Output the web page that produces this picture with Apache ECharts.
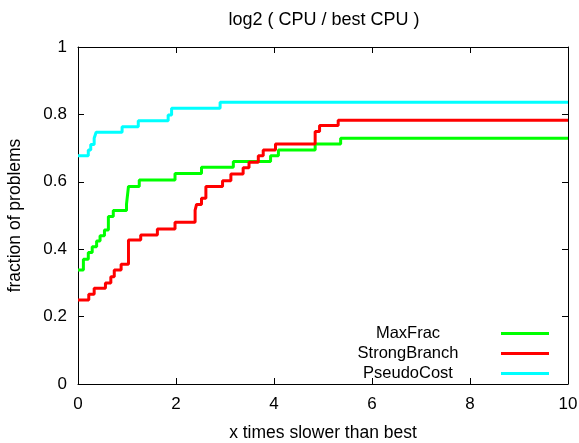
<!DOCTYPE html>
<html>
<head>
<meta charset="utf-8">
<script src="https://cdn.jsdelivr.net/npm/echarts@6/dist/echarts.min.js"></script>
<style>
  html, body { margin: 0; padding: 0; background: #fff; }
  #chart-container { width: 579px; height: 443px; }
</style>
</head>
<body>
<div id="chart-container"></div>
<script>
// step points: value holds from x until the next x
var maxFracX = [0, 0.11, 0.21, 0.29, 0.38, 0.45, 0.54, 0.62, 0.72, 0.99, 1.03, 1.25, 1.98, 2.52, 3.17, 3.93, 4.09, 4.84, 5.36, 10];
var maxFracY = [0.338, 0.37, 0.39, 0.407, 0.424, 0.44, 0.457, 0.497, 0.515, 0.534, 0.586, 0.605, 0.625, 0.643, 0.66, 0.677, 0.694, 0.712, 0.729, 0.729];

var strongX = [0, 0.22, 0.33, 0.56, 0.67, 0.74, 0.88, 1.03, 1.28, 1.62, 1.98, 2.39, 2.42, 2.52, 2.61, 2.95, 3.12, 3.37, 3.49, 3.68, 3.78, 4.03, 4.84, 4.93, 5.31, 10];
var strongY = [0.249, 0.266, 0.284, 0.30, 0.318, 0.338, 0.355, 0.427, 0.442, 0.46, 0.48, 0.516, 0.533, 0.551, 0.586, 0.603, 0.623, 0.642, 0.658, 0.677, 0.694, 0.712, 0.749, 0.767, 0.783, 0.783];

var pseudoX = [0, 0.21, 0.26, 0.33, 0.37, 0.90, 1.23, 1.84, 1.91, 2.90, 10];
var pseudoY = [0.677, 0.694, 0.711, 0.729, 0.747, 0.763, 0.781, 0.798, 0.818, 0.836, 0.836];

var seriesNames = ['MaxFrac', 'StrongBranch', 'PseudoCost'];
var seriesColors = ['#00ff00', '#ff0000', '#00ffff'];

var xTicks = [0, 2, 4, 6, 8, 10];
var yTicks = [0, 0.2, 0.4, 0.6, 0.8, 1];

function pairs(xs, ys) {
    var out = [];
    for (var i = 0; i < xs.length; i++) out.push([xs[i], ys[i]]);
    return out;
}

var font = 'Liberation Sans, Arial, sans-serif';
var axisLine = { show: true, onZero: false, lineStyle: { color: '#000', width: 1 } };
var tick = { show: true, inside: true, length: 6, lineStyle: { color: '#000' } };

var option = {
    animation: false,
    backgroundColor: '#fff',
    title: {
        text: 'log2 ( CPU / best CPU )',
        left: 319,
        top: 6,
        textAlign: 'center',
        textStyle: { fontFamily: font, fontSize: 18, fontWeight: 'normal', color: '#000' }
    },
    grid: { left: 78, right: 11, top: 47, bottom: 59, show: false, containLabel: false, outerBoundsMode: 'none' },
    legend: {
        orient: 'vertical',
        align: 'right',
        right: 25,
        top: 320,
        itemWidth: 48,
        itemHeight: 3,
        itemGap: 3,
        icon: 'rect',
        data: seriesNames,
        formatter: function (name) { return '{a|' + name + '}'; },
        textStyle: {
            fontFamily: font, fontSize: 16.5, color: '#000',
            rich: { a: { width: 176, align: 'center', lineHeight: 16, fontFamily: font, fontSize: 16.5, color: '#000' } }
        }
    },
    xAxis: [{
        type: 'value', min: xTicks[0], max: xTicks[xTicks.length - 1], interval: 2,
        name: 'x times slower than best', nameLocation: 'middle', nameGap: 40,
        nameTextStyle: { fontFamily: font, fontSize: 17.5, color: '#000' },
        axisLine: axisLine, axisTick: tick, splitLine: { show: false },
        axisLabel: { margin: 12, fontFamily: font, fontSize: 17, color: '#000' }
    }, {
        type: 'value', position: 'top', min: 0, max: 10, interval: 2,
        axisLine: axisLine, axisTick: tick, splitLine: { show: false },
        axisLabel: { show: false }
    }],
    yAxis: [{
        type: 'value', min: yTicks[0], max: yTicks[yTicks.length - 1], interval: 0.2,
        name: 'fraction of problems', nameLocation: 'middle', nameGap: 54,
        nameTextStyle: { fontFamily: font, fontSize: 17.5, color: '#000' },
        axisLine: axisLine, axisTick: tick, splitLine: { show: false },
        axisLabel: { margin: 11, fontFamily: font, fontSize: 17, color: '#000',
            formatter: function (v) { return String(Math.round(v * 10) / 10); } }
    }, {
        type: 'value', position: 'right', min: 0, max: 1, interval: 0.2,
        axisLine: axisLine, axisTick: tick, splitLine: { show: false },
        axisLabel: { show: false }
    }],
    series: [
        { name: seriesNames[0], type: 'line', step: 'end', showSymbol: false, symbol: 'none',
          color: seriesColors[0], lineStyle: { width: 3 }, data: pairs(maxFracX, maxFracY) },
        { name: seriesNames[1], type: 'line', step: 'end', showSymbol: false, symbol: 'none',
          color: seriesColors[1], lineStyle: { width: 3 }, data: pairs(strongX, strongY) },
        { name: seriesNames[2], type: 'line', step: 'end', showSymbol: false, symbol: 'none',
          color: seriesColors[2], lineStyle: { width: 3 }, data: pairs(pseudoX, pseudoY) }
    ]
};

var myChart = echarts.init(document.getElementById('chart-container'));
myChart.setOption(option);
</script>
</body>
</html>
